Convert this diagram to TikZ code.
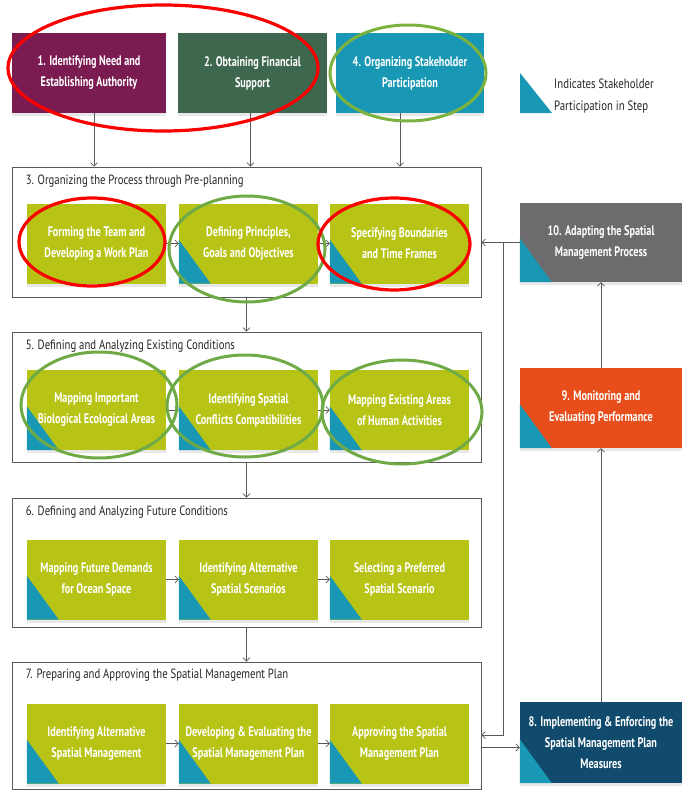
\documentclass[tikz,border=0pt]{standalone}
\usepackage{fontspec}
\setmainfont{PT Sans}[FakeStretch=0.8]
\newfontfamily\boxfont{PT Sans}[FakeStretch=0.74]
\usetikzlibrary{arrows.meta,shadows,positioning}
\definecolor{authcol}{RGB}{122,28,82}
\definecolor{fundcol}{RGB}{62,104,78}
\definecolor{partcol}{RGB}{24,152,180}
\definecolor{stepcol}{RGB}{183,196,22}
\definecolor{adaptcol}{RGB}{108,108,110}
\definecolor{monitorcol}{RGB}{232,78,28}
\definecolor{enforcecol}{RGB}{16,74,108}
\definecolor{ringred}{RGB}{250,0,0}
\definecolor{ringgreen}{RGB}{112,170,70}
\tikzstyle{flow}=[draw=black!65,line width=0.7pt,-{Straight Barb[length=3.5pt,width=7pt]}]
\tikzstyle{groupframe}=[draw=black!65,line width=0.8pt,fill=white,minimum width=469pt,inner sep=0pt]
\tikzstyle{grouptitle}=[anchor=west,inner sep=0pt,text=black!85,font=\fontsize{13.4}{15}\selectfont]
\tikzstyle{stepbox}=[fill=stepcol,text=white,align=center,inner sep=0pt,minimum width=139pt,minimum height=80pt,
  font=\boxfont\fontsize{13.8}{21}\selectfont\bfseries,drop shadow={shadow xshift=0pt,shadow yshift=-3pt,opacity=0.18}]
\tikzstyle{bigbox}=[stepbox,minimum height=80pt]
\tikzstyle{redring}=[draw=ringred,line width=3.2pt]
\tikzstyle{greenring}=[draw=ringgreen,line width=3pt]
\newcommand{\stakeholder}[1]{% teal corner = stakeholder participation
  \fill[partcol] (#1.south west) -- ++(0,-44) -- ++(32,44) -- cycle;
}
\begin{document}
\begin{tikzpicture}[x=1pt,y=-1pt]
\useasboundingbox[fill=white] (0,0) rectangle (682,790);

% top row
\node[bigbox,fill=authcol,minimum width=154pt] (box1) at (89,73) {1. Identifying Need and\\Establishing Authority};
\node[bigbox,fill=fundcol,minimum width=149pt] (box2) at (252.5,73) {2. Obtaining Financial\\Support};
\node[bigbox,fill=partcol,minimum width=148pt] (box4) at (410,73) {4. Organizing Stakeholder\\Participation};
% legend
\fill[partcol] (520,73) -- (520,113) -- (552,113) -- cycle;
\node[anchor=west,align=left,inner sep=0pt,text=black!85,font=\fontsize{13.5}{22}\selectfont] (legend) at (554,96) {Indicates Stakeholder\\Participation in Step};

% step 3
\node[groupframe,minimum height=130pt] (grp3) at (246.5,232) {};
\node[grouptitle] (t3) at ([xshift=14pt,yshift=-15pt]grp3.north west) {3. Organizing the Process through Pre-planning};
\node[stepbox] (s3a) at (96.5,243.5) {Forming the Team and\\Developing a Work Plan};
\node[stepbox] (s3b) at (248.5,243.5) {Defining Principles,\\Goals and Objectives};
\node[stepbox] (s3c) at (399.5,243.5) {Specifying Boundaries\\and Time Frames};
\stakeholder{s3b}
\stakeholder{s3c}

% step 5
\node[groupframe,minimum height=130pt] (grp5) at (246.5,397) {};
\node[grouptitle] (t5) at ([xshift=14pt,yshift=-15pt]grp5.north west) {5. Defining and Analyzing Existing Conditions};
\node[stepbox] (s5a) at (96.5,410) {Mapping Important\\Biological Ecological Areas};
\node[stepbox] (s5b) at (248.5,410) {Identifying Spatial\\Conflicts Compatibilities};
\node[stepbox] (s5c) at (399.5,410) {Mapping Existing Areas\\of Human Activities};
\stakeholder{s5a}
\stakeholder{s5b}
\stakeholder{s5c}

% step 6
\node[groupframe,minimum height=129pt] (grp6) at (246.5,562.5) {};
\node[grouptitle] (t6) at ([xshift=14pt,yshift=-15pt]grp6.north west) {6. Defining and Analyzing Future Conditions};
\node[stepbox] (s6a) at (96.5,579.5) {Mapping Future Demands\\for Ocean Space};
\node[stepbox] (s6b) at (248.5,579.5) {Identifying Alternative\\Spatial Scenarios};
\node[stepbox] (s6c) at (399.5,579.5) {Selecting a Preferred\\Spatial Scenario};
\stakeholder{s6a}
\stakeholder{s6b}
\stakeholder{s6c}

% step 7
\node[groupframe,minimum height=127pt] (grp7) at (246.5,725.5) {};
\node[grouptitle] (t7) at ([xshift=14pt,yshift=-14pt]grp7.north west) {7. Preparing and Approving the Spatial Management Plan};
\node[stepbox] (s7a) at (96.5,743.5) {Identifying Alternative\\Spatial Management};
\node[stepbox] (s7b) at (248.5,743.5) {Developing \& Evaluating the\\Spatial Management Plan};
\node[stepbox] (s7c) at (399.5,743.5) {Approving the Spatial\\Management Plan};
\stakeholder{s7a}
\stakeholder{s7b}
\stakeholder{s7c}

% right column
\node[bigbox,fill=adaptcol,minimum width=162pt,minimum height=79pt] (box10) at (601,242.5) {10. Adapting the Spatial\\Management Process};
\node[bigbox,fill=monitorcol,minimum width=162pt] (box9) at (601,408) {9. Monitoring and\\Evaluating Performance};
\node[bigbox,fill=enforcecol,minimum width=162pt,minimum height=81pt] (box8) at (601,742.5) {8. Implementing \& Enforcing the\\Spatial Management Plan\\Measures};
\stakeholder{box10}
\stakeholder{box9}
\stakeholder{box8}

% connectors
\draw[flow] ([xshift=5pt]box1.south) -- ([xshift=5pt]box1.south |- grp3.north);
\draw[flow] ([xshift=-2pt]box2.south) -- ([xshift=-2pt]box2.south |- grp3.north);
\draw[flow] ([xshift=-10pt]box4.south) -- ([xshift=-10pt]box4.south |- grp3.north);
\foreach \g in {3,5,6,7} {
  \draw[flow] (s\g a) -- (s\g b);
  \draw[flow] (s\g b) -- (s\g c);
}
\draw[flow] (grp3) -- (grp5);
\draw[flow] (grp5) -- (grp6);
\draw[flow] (grp6) -- (grp7);
\draw[flow] (box10.west) -- (box10.west -| grp3.east);
\coordinate (fork) at (503,242.5);
\coordinate (back7) at (503,735);
\draw[flow] (fork) -- (back7) -- (back7 -| grp7.east);
\draw[flow] ([yshift=-5pt]box8.west -| grp7.east) -- ([yshift=-5pt]box8.west);
\draw[flow] (box8) -- (box9);
\draw[flow] (box9) -- (box10);

% highlight rings
\draw[redring] (163,68) ellipse [x radius=155, y radius=63];
\draw[greenring,draw=ringgreen!90!yellow] (408,73) ellipse [x radius=78, y radius=48];
\draw[redring] (92,242) ellipse [x radius=73, y radius=44];
\draw[greenring] (247,249) ellipse [x radius=78, y radius=53];
\draw[redring] (394,244) ellipse [x radius=76, y radius=46];
\draw[greenring] (99,405) ellipse [x radius=78, y radius=53];
\draw[greenring] (245,406) ellipse [x radius=78, y radius=51];
\draw[greenring] (402,412) ellipse [x radius=80, y radius=52];
\end{tikzpicture}
\end{document}
